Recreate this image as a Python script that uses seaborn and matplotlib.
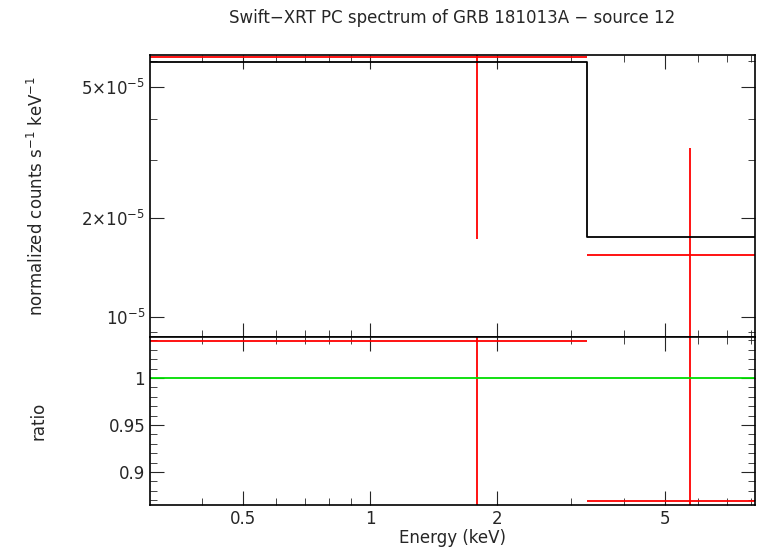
import matplotlib
matplotlib.use("Agg")
import matplotlib.pyplot as plt
import seaborn as sns
import numpy as np
from matplotlib.ticker import FixedLocator, NullFormatter, NullLocator

sns.set_style("white")

bin_lo = [0.3, 3.27]
bin_hi = [3.27, 8.2]
bin_ctr = [1.79, 5.73]
data_y = [6.16e-5, 1.54e-5]
data_err_lo = [1.73e-5, 5e-6]
data_err_hi = [8e-5, 3.25e-5]
model_y = [5.94e-5, 1.75e-5]
ratio_y = [1.039, 0.869]
ratio_lo = [0.8, 0.8]
ratio_hi = [1.1, 1.1]

fig = plt.figure(figsize=(7.58, 5.56), dpi=100)
ax1 = fig.add_axes([150/758, 1-337/556, 605/758, 282/556])
ax2 = fig.add_axes([150/758, 1-505/556, 605/758, 168/556], sharex=ax1)

for i in range(2):
    ax1.hlines(data_y[i], bin_lo[i], bin_hi[i], color="red", lw=1.3)
    ax1.vlines(bin_ctr[i], data_err_lo[i], data_err_hi[i], color="red", lw=1.3)
    ax2.hlines(ratio_y[i], bin_lo[i], bin_hi[i], color="red", lw=1.3)
    ax2.vlines(bin_ctr[i], ratio_lo[i], ratio_hi[i], color="red", lw=1.3)
ax1.step(bin_lo + [bin_hi[-1]], model_y + [model_y[-1]], where="post", color="black", lw=1.3)
ax2.axhline(1.0, color="#00dd00", lw=1.3)

ax1.set_xscale("log")
ax1.set_yscale("log")
ax1.set_xlim(0.301, 8.17)
ax1.set_ylim(8.7e-6, 6.24e-5)
ax2.set_ylim(0.865, 1.0436)

ax1.yaxis.set_major_locator(FixedLocator([1e-5, 2e-5, 5e-5]))
ax1.set_yticklabels([r"$10^{-5}$", r"$2{\times}10^{-5}$", r"$5{\times}10^{-5}$"])
ax1.yaxis.set_minor_locator(FixedLocator([k*1e-6 for k in range(9, 10)] + [k*1e-5 for k in range(1, 7)]))
ax1.yaxis.set_minor_formatter(NullFormatter())
ax2.xaxis.set_major_locator(FixedLocator([0.5, 1, 2, 5]))
ax2.set_xticklabels(["0.5", "1", "2", "5"])
ax2.xaxis.set_minor_locator(FixedLocator([0.3, 0.4, 0.6, 0.7, 0.8, 0.9, 3, 4, 6, 7, 8]))
ax2.xaxis.set_minor_formatter(NullFormatter())
ax2.yaxis.set_major_locator(FixedLocator([0.9, 0.95, 1.0]))
ax2.set_yticklabels(["0.9", "0.95", "1"])
ax2.yaxis.set_minor_locator(FixedLocator(np.round(np.arange(0.87, 1.045, 0.01), 3)))
plt.setp(ax1.get_xticklabels(), visible=False)

for ax in (ax1, ax2):
    ax.tick_params(which="both", direction="in", top=True, right=True, bottom=True, left=True, labelsize=12)
    ax.tick_params(which="major", length=10)
    ax.tick_params(which="minor", length=5)
    for s in ax.spines.values():
        s.set_color("black"); s.set_linewidth(1.2)

ax1.set_ylabel(r"normalized counts s$^{-1}$ keV$^{-1}$", fontsize=12)
ax2.set_ylabel("ratio", fontsize=12)
ax2.set_xlabel("Energy (keV)", fontsize=12, labelpad=1)
ax2.yaxis.set_label_coords(-0.17, 0.5)
ax1.yaxis.set_label_coords(-0.17, 0.5)
fig.text(452/758, 1-18/556, "Swift\u2212XRT PC spectrum of GRB 181013A \u2212 source 12", ha="center", va="center", fontsize=12)

fig.savefig("out.png", dpi=100)
